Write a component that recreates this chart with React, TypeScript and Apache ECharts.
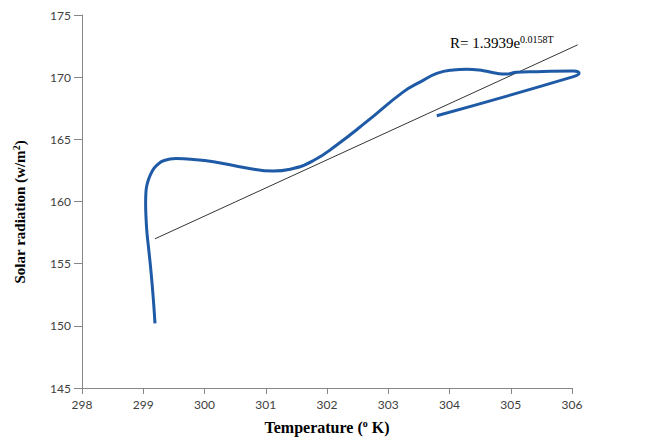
import React, { useEffect, useRef } from "react";
import * as echarts from "echarts";

const temperature = [
  299.0, 298.977, 298.946, 298.912, 298.886, 298.872, 298.867, 298.872, 298.885, 298.91,
  298.957, 299.024, 299.13, 299.3, 299.51, 299.83, 300.3, 300.68, 300.92, 301.25,
  301.58, 302.0, 302.52, 302.76, 303.0, 303.23, 303.42, 303.66, 303.85, 303.99,
  304.13, 304.42, 304.94, 305.02, 304.94, 303.0,
];
const radiation = [
  150.2, 152.1, 154.2, 156.1, 157.5, 158.8, 159.9, 160.8, 161.3, 161.8,
  162.4, 162.9, 163.3, 163.45, 163.4, 163.2, 162.7, 162.45, 162.6, 163.3,
  164.55, 166.4, 168.8, 169.6, 170.3, 170.58, 170.64, 170.52, 170.31, 170.25,
  170.39, 170.44, 170.5, 170.31, 170.04, 166.9,
];

// Exponential trend line endpoints R = 1.3939 e^(0.0158 T)
const trendTemperature = [299, 305];
const trendRadiation = [157.0, 172.6];

// Axis ranges and tick labels
const xMin = 298;
const xMax = 306;
const yMin = 145;
const yMax = 175;

export default function App() {
  const ref = useRef<HTMLDivElement>(null);

  useEffect(() => {
    if (!ref.current) return;
    const chart = echarts.init(ref.current, undefined, { renderer: "svg" });
    const axisGray = "#868686";
    const labelFont = "Lato";
    chart.setOption({
      animation: false,
      backgroundColor: "#ffffff",
      grid: [
        { left: 82, right: 87, top: 15, bottom: 56, containLabel: false },
        { left: 82, right: 77, top: 15, bottom: 56, containLabel: false },
      ],
      xAxis: [
        {
          type: "value",
          gridIndex: 0,
          min: xMin,
          max: xMax,
          interval: 1,
          axisLine: { show: true, lineStyle: { color: axisGray, width: 1 } },
          axisTick: { show: true, inside: false, length: 6, lineStyle: { color: axisGray } },
          axisLabel: { color: "#404040", fontFamily: labelFont, fontSize: 12, margin: 10 },
          splitLine: { show: false },
        },
        {
          type: "value",
          gridIndex: 1,
          min: 297.964,
          max: 305.061,
          show: false,
          splitLine: { show: false },
        },
      ],
      yAxis: [
        {
          type: "value",
          gridIndex: 0,
          min: yMin,
          max: yMax,
          interval: 5,
          axisLine: { show: true, lineStyle: { color: axisGray, width: 1 } },
          axisTick: { show: true, inside: false, length: 8, lineStyle: { color: axisGray } },
          axisLabel: { color: "#404040", fontFamily: labelFont, fontSize: 12, margin: 11 },
          splitLine: { show: false },
        },
        {
          type: "value",
          gridIndex: 1,
          min: yMin,
          max: yMax,
          show: false,
          splitLine: { show: false },
        },
      ],
      series: [
        {
          type: "line",
          xAxisIndex: 1,
          yAxisIndex: 1,
          data: trendTemperature.map((t, i) => [t, trendRadiation[i]]),
          showSymbol: false,
          symbol: "none",
          clip: false,
          lineStyle: { color: "#000000", width: 0.8 },
          z: 2,
        },
        {
          type: "line",
          xAxisIndex: 1,
          yAxisIndex: 1,
          data: temperature.map((t, i) => [t, radiation[i]]),
          smooth: 0.5,
          showSymbol: false,
          symbol: "none",
          clip: false,
          lineStyle: { color: "#1f5aa6", width: 3 },
          z: 3,
        },
      ],
      graphic: [
        {
          type: "text",
          left: 450,
          top: 34,
          style: {
            text: "R= 1.3939e{sup|0.0158T}",
            font: "15px 'Liberation Serif'",
            fill: "#000000",
            rich: {
              sup: { fontSize: 10, fontFamily: "Liberation Serif", verticalAlign: "top", padding: [0, 0, 8, 0] },
            },
          },
        },
        {
          type: "text",
          x: 327,
          y: 427,
          style: {
            text: "Temperature ({sup|o} K)",
            font: "bold 16px 'Liberation Serif'",
            fill: "#000000",
            align: "center",
            verticalAlign: "middle",
            rich: {
              sup: { fontSize: 10, fontWeight: "bold", fontFamily: "Liberation Serif", padding: [0, 0, 8, 0] },
            },
          },
        },
        {
          type: "text",
          x: 20,
          y: 212,
          rotation: Math.PI / 2,
          style: {
            text: "Solar radiation (w/m{sup|2})",
            font: "bold 15px 'Liberation Serif'",
            fill: "#000000",
            align: "center",
            verticalAlign: "middle",
            rich: {
              sup: { fontSize: 10, fontWeight: "bold", fontFamily: "Liberation Serif", padding: [0, 0, 8, 0] },
            },
          },
        },
      ],
    });
    return () => chart.dispose();
  }, []);

  return (
    <div
      ref={ref}
      style={{ position: "fixed", left: 0, top: 0, width: 659, height: 444, background: "#fff" }}
    />
  );
}
